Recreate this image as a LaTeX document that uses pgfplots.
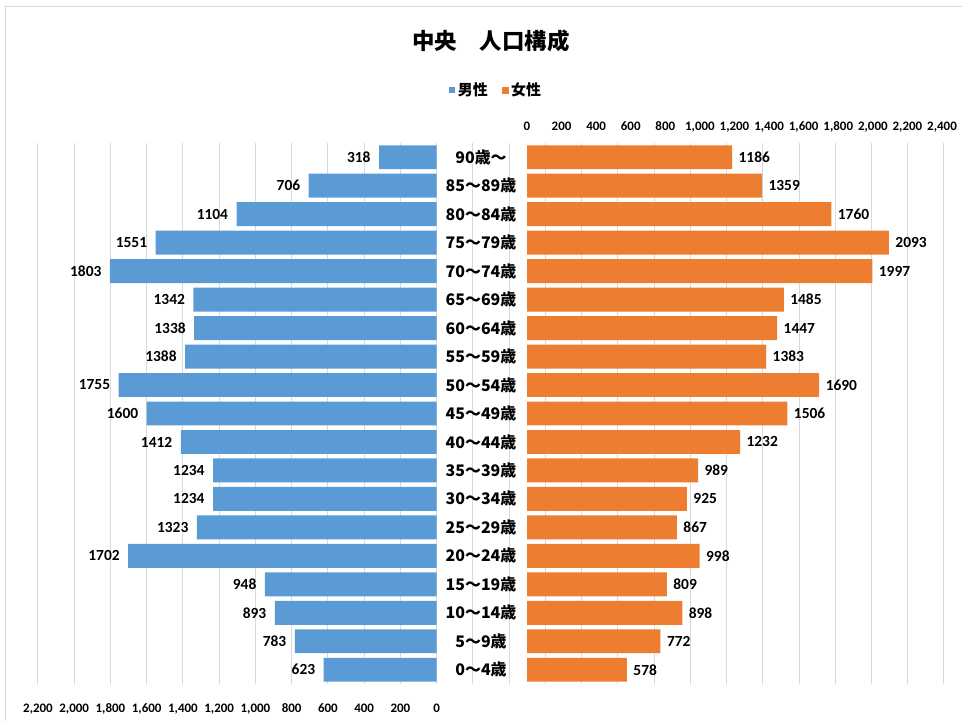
\documentclass[border=0pt]{standalone}
\usepackage{pgfplots}
\pgfplotsset{compat=1.18}
\usepackage{fontspec}
\setmainfont{Carlito}
\newfontfamily\cjk{Noto Sans CJK JP}
\definecolor{maleblue}{HTML}{5B9BD5}
\definecolor{femaleorange}{HTML}{ED7D31}
\definecolor{gridgray}{HTML}{D9D9D9}
\begin{document}
\begin{tikzpicture}
\path[use as bounding box] (0,0) rectangle (962bp,721bp);
\draw[gridgray, line width=1bp] (5bp,0) -- (5bp,714bp) -- (962bp,714bp);
\begin{axis}[
  at={(491bp,37bp)}, anchor=south,
  width=906bp, height=541bp, scale only axis,
  xbar, bar width=0.84,
  x dir=reverse, xmin=-2800, xmax=2200,
  ymin=-0.5, ymax=18.5, ytick=\empty,
  xtick={0,200,...,2200}, minor xtick={-2800,-2600,...,-200},
  xmajorgrids, xminorgrids,
  major grid style={gridgray, line width=1bp},
  minor grid style={gridgray, line width=1bp},
  axis line style={draw=none},
  major tick length=0pt, minor tick length=0pt,
  /pgf/number format/assume math mode=true,
  /pgf/number format/1000 sep={,},
  xticklabel style={font=\bfseries\fontsize{13}{15}\selectfont, anchor=base, yshift=-28bp},
  title={中央　人口構成},
  title style={font=\cjk\bfseries\fontsize{22.5}{26}\selectfont, at={(0.5,1.178)}, anchor=center},
  legend style={draw=none, at={(0.506,1.098)}, anchor=center, font=\cjk\bfseries\fontsize{15}{17}\selectfont,
    legend columns=2, /tikz/every even column/.append style={column sep=12bp},
    /tikz/every node/.append style={inner xsep=2.5bp}},
  nodes near coords={\pgfmathprintnumber[1000 sep={}]{\pgfplotspointmeta}},
  every node near coord/.append style={anchor=east, xshift=-5bp, font=\bfseries\fontsize{15.5}{17}\selectfont, color=black},
]
\addplot[fill=maleblue, draw=none,
  legend image code/.code={\fill[maleblue] (0bp,-3bp) rectangle (6bp,3bp);}]
  coordinates {
  (623,0) (783,1) (893,2) (948,3) (1702,4) (1323,5) (1234,6) (1234,7)
  (1412,8) (1600,9) (1755,10) (1388,11) (1338,12) (1342,13) (1803,14)
  (1551,15) (1104,16) (706,17) (318,18)};
\addlegendentry{男性}
\addlegendimage{legend image code/.code={\fill[femaleorange] (0bp,-3bp) rectangle (6bp,3bp);}}
\addlegendentry{女性}
\end{axis}
\begin{axis}[
  at={(527bp,37bp)}, anchor=south west,
  width=415bp, height=541bp, scale only axis,
  xbar, bar width=0.84,
  xmin=0, xmax=2400,
  ymin=-0.5, ymax=18.5,
  xtick={0,200,...,2400}, xticklabel pos=top,
  ytick={0,...,18},
  yticklabels={0～4歳,5～9歳,10～14歳,15～19歳,20～24歳,25～29歳,30～34歳,35～39歳,40～44歳,45～49歳,50～54歳,55～59歳,60～64歳,65～69歳,70～74歳,75～79歳,80～84歳,85～89歳,90歳～},
  yticklabel pos=left,
  yticklabel style={anchor=center, xshift=-46bp, font=\cjk\bfseries\fontsize{16}{18}\selectfont},
  axis line style={draw=none},
  major tick length=0pt,
  /pgf/number format/assume math mode=true,
  /pgf/number format/1000 sep={,},
  xticklabel style={font=\bfseries\fontsize{13}{15}\selectfont, anchor=base, yshift=12bp},
  nodes near coords={\pgfmathprintnumber[1000 sep={}]{\pgfplotspointmeta}},
  every node near coord/.append style={anchor=west, xshift=3bp, font=\bfseries\fontsize{15.5}{17}\selectfont, color=black},
]
\addplot[fill=femaleorange, draw=none]
  coordinates {
  (578,0) (772,1) (898,2) (809,3) (998,4) (867,5) (925,6) (989,7)
  (1232,8) (1506,9) (1690,10) (1383,11) (1447,12) (1485,13) (1997,14)
  (2093,15) (1760,16) (1359,17) (1186,18)};
\end{axis}
\end{tikzpicture}
\end{document}
